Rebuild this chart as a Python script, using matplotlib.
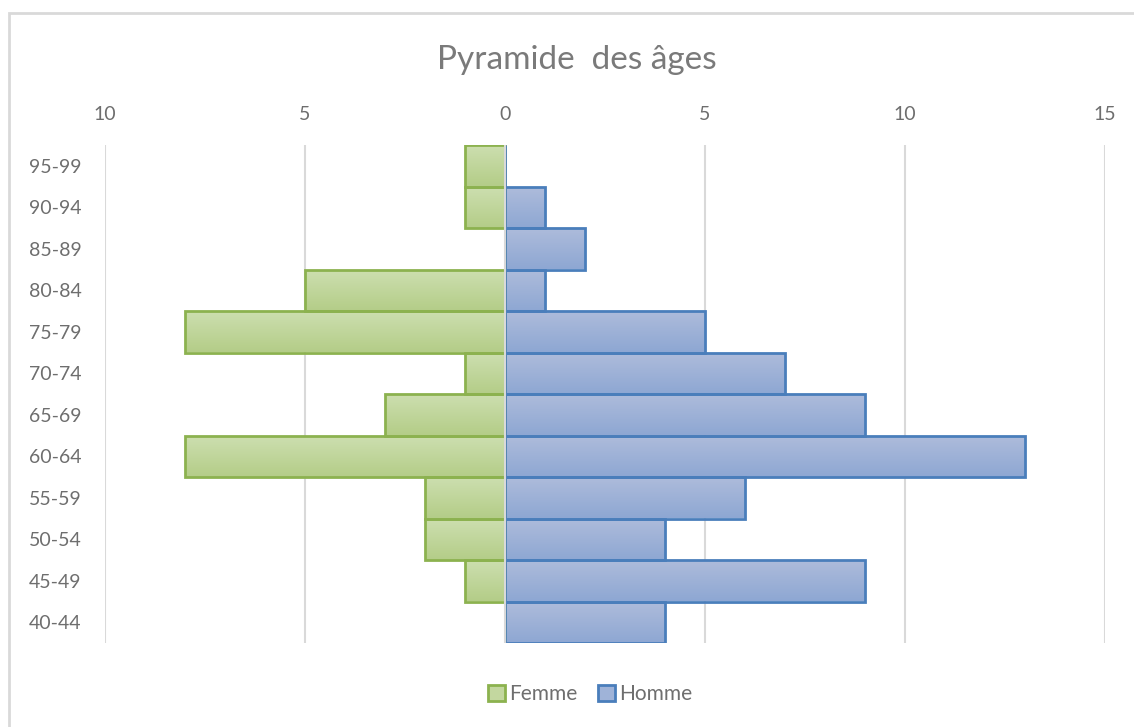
import numpy as np
import matplotlib
matplotlib.use("Agg")
import matplotlib.pyplot as plt
from matplotlib.colors import LinearSegmentedColormap
from matplotlib.patches import Rectangle, Patch

# données
ages = ["40-44", "45-49", "50-54", "55-59", "60-64", "65-69",
        "70-74", "75-79", "80-84", "85-89", "90-94", "95-99"]
femme = [0, 1, 2, 2, 8, 3, 1, 8, 5, 0, 1, 1]
homme = [4, 9, 4, 6, 13, 9, 7, 5, 1, 2, 1, 0]
ticks = [-10, -5, 0, 5, 10, 15]

plt.rcParams['font.family'] = ['Lato', 'DejaVu Sans']
gris = "#6e6e6e"

fig = plt.figure(figsize=(11.34, 7.27), dpi=100)
ax = fig.add_axes([105 / 1134, 84 / 727, 1000 / 1134, 498 / 727])

# cadre du graphique
fig.patches.append(Rectangle((9 / 1134, -0.1), 1.2, (727 - 13) / 727 + 0.1,
                             transform=fig.transFigure, fill=False,
                             edgecolor="#d9d9d9", linewidth=2))

y = np.arange(len(ages))
cm_vert = LinearSegmentedColormap.from_list("v", ["#cddfb0", "#b4cd88"])
cm_bleu = LinearSegmentedColormap.from_list("b", ["#aebcdb", "#8ea7d3"])


def barres(valeurs, cmap, bord, label):
    bars = ax.barh(y, valeurs, height=1.0, color="none", edgecolor=bord,
                   linewidth=2, label=label, zorder=3)
    grad = np.linspace(0, 1, 64).reshape(-1, 1)
    for b in bars:
        if b.get_width() == 0:
            continue
        x0, y0 = b.get_x(), b.get_y()
        w, h = b.get_width(), b.get_height()
        # clair en haut, plus foncé en bas
        im = ax.imshow(grad, cmap=cmap, aspect="auto", zorder=2,
                       extent=[x0, x0 + w, y0, y0 + h], origin="upper")
        im.set_clip_path(b)
    return bars


barres([-v for v in femme], cm_vert, "#8cb24f", "Femme")
barres(homme, cm_bleu, "#4a7ebb", "Homme")

ax.set_xlim(-10, 15)
ax.set_ylim(-0.5, len(ages) - 0.5)
ax.set_xticks(ticks)
ax.set_xticklabels([str(abs(t)) for t in ticks])
ax.xaxis.tick_top()
ax.set_yticks(y)
ax.set_yticklabels(ages)
ax.tick_params(length=0, labelsize=14, colors=gris)
ax.tick_params(axis="x", pad=16)
ax.tick_params(axis="y", pad=17)

for t in ticks:
    ax.axvline(t, color="#d9d9d9", linewidth=1.5, zorder=1 if t != 0 else 4)
for s in ax.spines.values():
    s.set_visible(False)

fig.text(577 / 1134, 1 - 60 / 727, "Pyramide  des âges", ha="center", va="center",
         fontsize=24, color="#7a7a7a")

handles = [Patch(facecolor="#c3d79f", edgecolor="#8cb24f", linewidth=2, label="Femme"),
           Patch(facecolor="#9fb3d8", edgecolor="#4a7ebb", linewidth=2, label="Homme")]
fig.legend(handles=handles, loc="center", bbox_to_anchor=(590 / 1134, 1 - 694 / 727),
           ncol=2, frameon=False, fontsize=15, labelcolor=gris,
           handlelength=0.8, handleheight=0.8, handletextpad=0.2, columnspacing=1.0)

fig.savefig("out.png", dpi=100, facecolor="white")
